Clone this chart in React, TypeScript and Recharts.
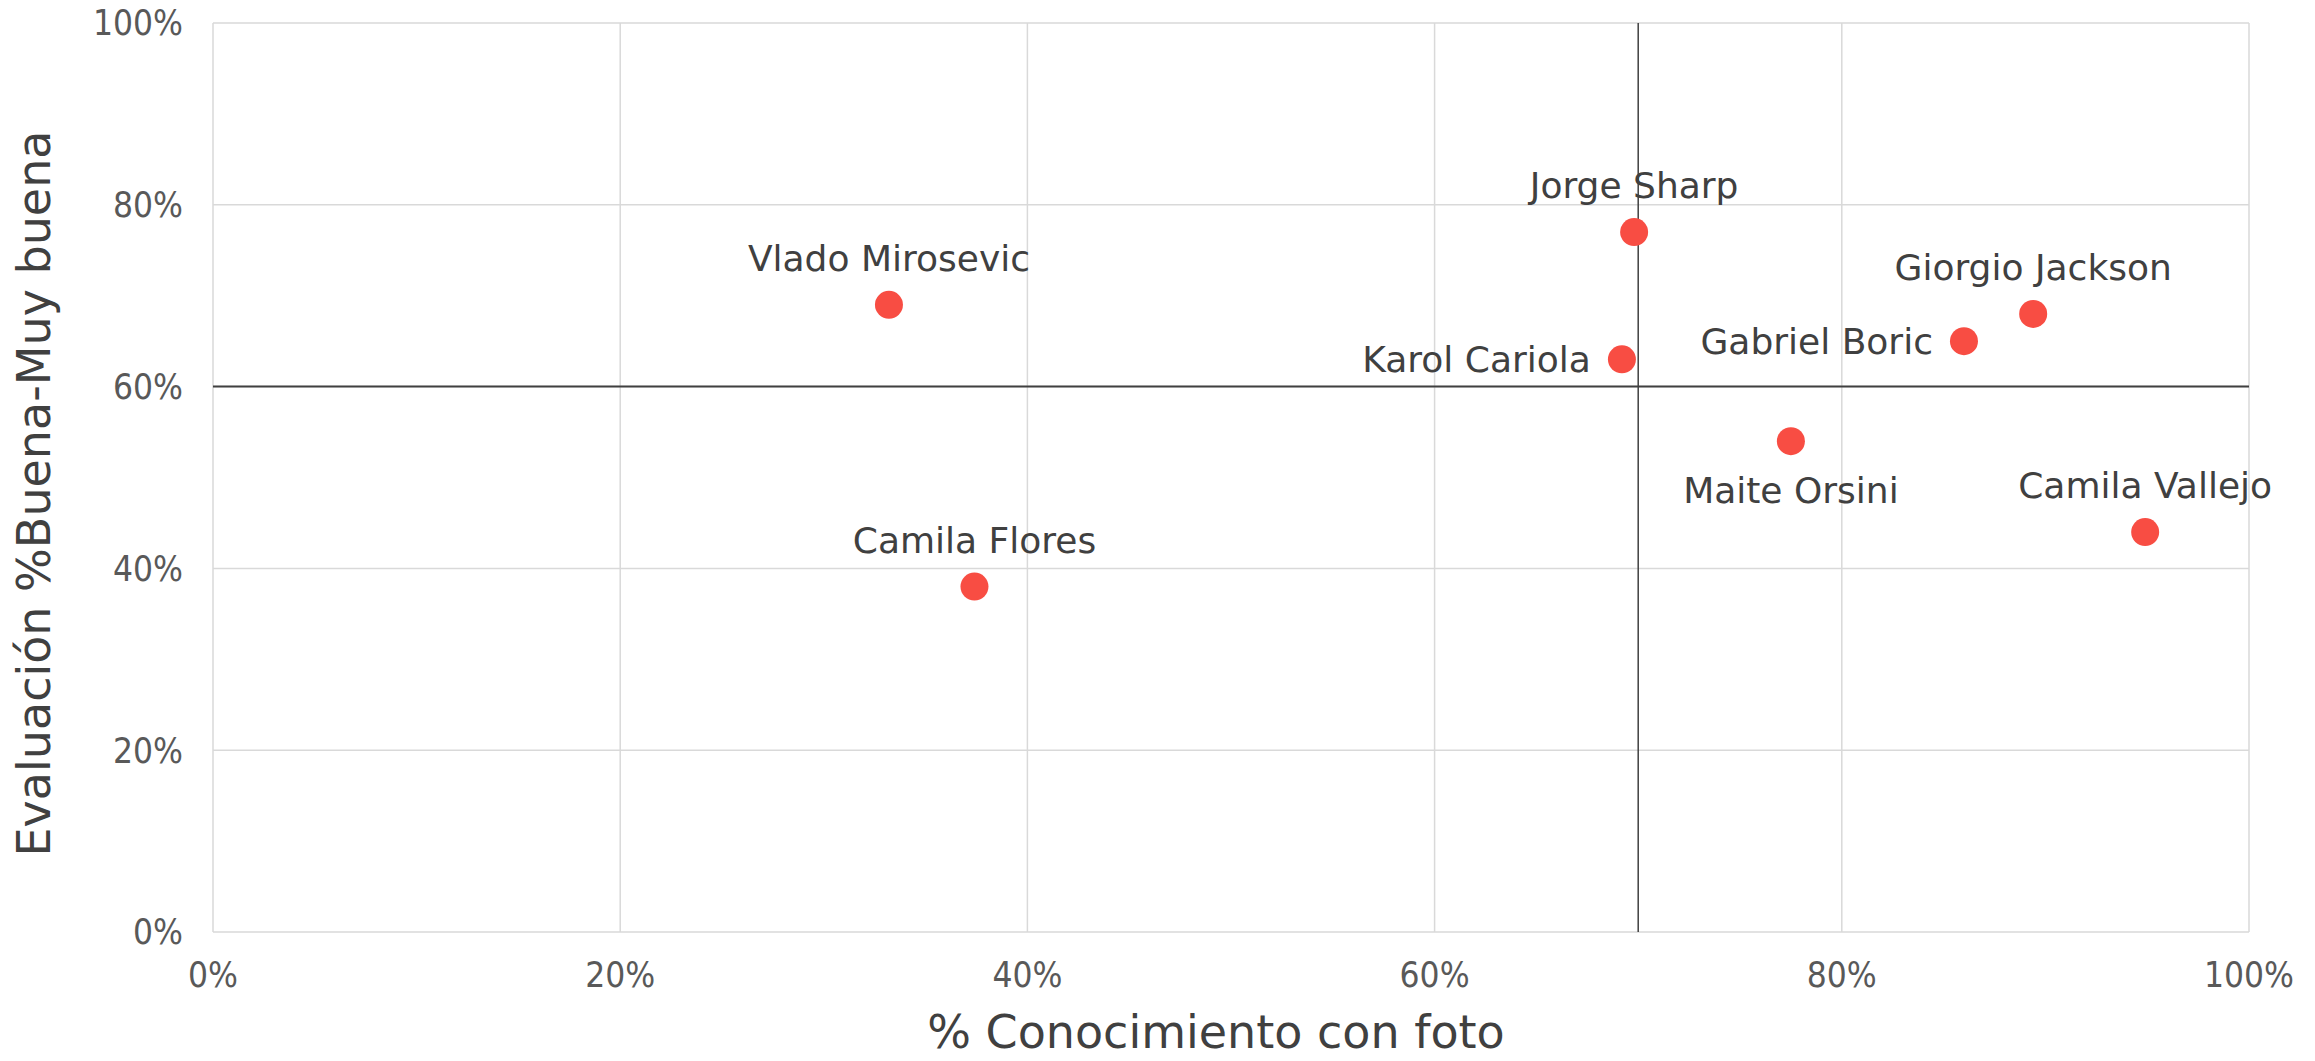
import React from 'react';
import {
  ScatterChart,
  Scatter,
  XAxis,
  YAxis,
  CartesianGrid,
  ReferenceLine,
  Label,
} from 'recharts';

// candidates, % conocimiento con foto (x) and % evaluación buena-muy buena (y)
const names = [
  'Vlado Mirosevic',
  'Camila Flores',
  'Jorge Sharp',
  'Karol Cariola',
  'Gabriel Boric',
  'Giorgio Jackson',
  'Maite Orsini',
  'Camila Vallejo',
];
const conocimiento = [0.332, 0.374, 0.698, 0.692, 0.86, 0.894, 0.775, 0.949];
const evaluacion = [0.69, 0.38, 0.77, 0.63, 0.65, 0.68, 0.54, 0.44];
const ticks = [0, 0.2, 0.4, 0.6, 0.8, 1];
const crossX = 0.7;
const crossY = 0.6;

// where each name sits relative to its dot
const labelSides = ['top', 'top', 'top', 'left', 'left', 'top', 'bottom', 'top'];

const rows = names.map((name, i) => ({
  name,
  x: conocimiento[i],
  y: evaluacion[i],
  side: labelSides[i],
}));

const FONT = "'DejaVu Sans', sans-serif";
const TICK_FONT = "'Liberation Sans Narrow', 'DejaVu Sans Condensed', 'DejaVu Sans', sans-serif";
const TEXT = '#404040';
const DOT = '#F84D43';

const pct = (v: number) => `${Math.round(v * 100)}%`;

const renderDot = (props: any) => {
  const { cx, cy, payload } = props;
  let tx = cx;
  let ty = cy - 34;
  let anchor: 'middle' | 'end' = 'middle';
  if (payload.side === 'left') {
    tx = cx - 31;
    ty = cy + 13;
    anchor = 'end';
  } else if (payload.side === 'bottom') {
    ty = cy + 62;
  }
  return (
    <g>
      <circle cx={cx} cy={cy} r={14} fill={DOT} />
      <text x={tx} y={ty} textAnchor={anchor} fontSize={36} fontFamily={FONT} fill={TEXT}>
        {payload.name}
      </text>
    </g>
  );
};

const App: React.FC = () => {
  return (
    <div style={{ position: 'absolute', left: 0, top: 0, width: 2315, height: 1061, background: '#fff', fontFamily: FONT }}>
      <ScatterChart width={2315} height={1061} margin={{ top: 23, right: 66, left: 0, bottom: 0 }}>
        <CartesianGrid stroke="#D9D9D9" strokeWidth={1.5} />
        <XAxis
          type="number"
          dataKey="x"
          domain={[0, 1]}
          ticks={ticks}
          interval={0}
          tickFormatter={pct}
          tickSize={0}
          tickMargin={30}
          axisLine={false}
          height={129}
          tick={{ fill: '#595959', fontSize: 35, fontFamily: TICK_FONT }}
        >
          <Label
            content={({ viewBox }: any) => (
              <text
                x={viewBox.x + viewBox.width / 2 - 15}
                y={1048}
                textAnchor="middle"
                fontSize={46}
                fontFamily={FONT}
                fill={TEXT}
              >
                % Conocimiento con foto
              </text>
            )}
          />
        </XAxis>
        <YAxis
          type="number"
          dataKey="y"
          domain={[0, 1]}
          ticks={ticks}
          interval={0}
          tickFormatter={pct}
          tickSize={0}
          tickMargin={30}
          axisLine={false}
          width={213}
          tick={{ fill: '#595959', fontSize: 35, fontFamily: TICK_FONT }}
        >
          <Label
            content={({ viewBox }: any) => {
              const cx = 34;
              const cy = viewBox.y + viewBox.height / 2 + 16;
              return (
                <text
                  x={cx}
                  y={cy}
                  transform={`rotate(-90 ${cx} ${cy})`}
                  textAnchor="middle"
                  dominantBaseline="central"
                  fontSize={46}
                  fontFamily={FONT}
                  fill={TEXT}
                >
                  Evaluación %Buena-Muy buena
                </text>
              );
            }}
          />
        </YAxis>
        <ReferenceLine x={crossX} stroke="#404040" strokeWidth={1.5} />
        <ReferenceLine y={crossY} stroke="#404040" strokeWidth={2} />
        <Scatter data={rows} dataKey="y" shape={renderDot} isAnimationActive={false} />
      </ScatterChart>
    </div>
  );
};

export default App;
